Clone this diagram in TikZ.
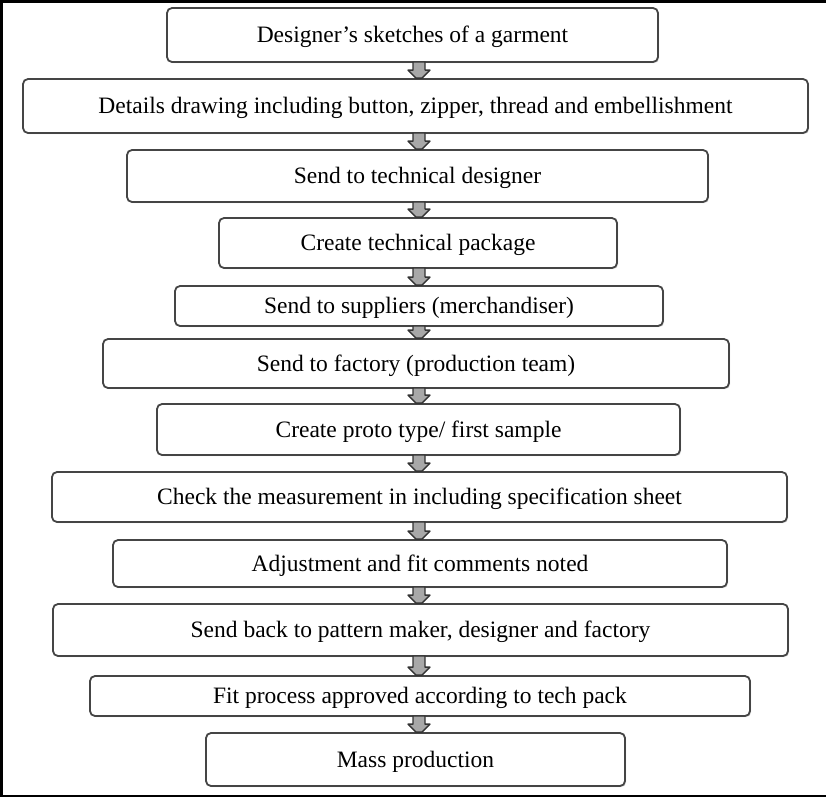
\documentclass[tikz,border=0pt]{standalone}
\usepackage{fontspec}
\setmainfont{Liberation Serif}
\usepackage{tikz}
\usetikzlibrary{calc,shadows}
\definecolor{edgex}{HTML}{454545}
\definecolor{arrowfill}{HTML}{A8A8A8}
\tikzset{
  stage/.style={draw=edgex,line width=1.8pt,rounded corners=5pt,fill=white,
    inner sep=0pt,text depth=1pt,font=\fontsize{23.5}{26}\selectfont,
    drop shadow={shadow xshift=1.2pt,shadow yshift=-1.2pt,fill=black!25}},
  flow/.style={draw=black!80,line width=1.3pt,fill=arrowfill,line join=round}
}
% block arrow from the bottom of one box to the top of the next
\newcommand{\flowarrow}[2]{%
  \path[flow] let \p1=(#1.south -| axis), \p2=(#2.north -| axis) in
    (\x1-6pt,\y1+1pt) -- (\x1+6pt,\y1+1pt) -- (\x1+6pt,\y2+8pt)
    -- (\x1+11pt,\y2+8pt) -- (\x1+3pt,\y2) -- (\x1-3pt,\y2)
    -- (\x1-11pt,\y2+8pt) -- (\x1-6pt,\y2+8pt) -- cycle;}

\begin{document}
\begin{tikzpicture}[x=1pt,y=-1pt]
\useasboundingbox (0,0) rectangle (826,798);
\draw[line width=3pt] (826,1.5) -- (1.5,1.5) -- (1.5,796);
\draw[line width=2pt] (0,796) -- (826,796);
\coordinate (axis) at (419,0);

\node[stage,minimum width=491,minimum height=54] (sketch) at (412.5,35) {Designer’s sketches of a garment};
\node[stage,minimum width=785,minimum height=54] (details) at (415.5,106) {Details drawing including button, zipper, thread and embellishment};
\node[stage,minimum width=581,minimum height=52] (sendtd) at (417.5,176) {Send to technical\ designer};
\node[stage,minimum width=398,minimum height=50] (techpack) at (418,243) {Create technical\ package};
\node[stage,minimum width=488,minimum height=40] (suppliers) at (419,306) {Send to suppliers (merchandiser)};
\node[stage,minimum width=626,minimum height=49] (factory) at (416,363.5) {Send to factory\ (production team)};
\node[stage,minimum width=523,minimum height=51] (proto) at (418.5,429.5) {Create proto type/ first sample};
\node[stage,minimum width=735,minimum height=50] (measure) at (419.5,497) {Check the measurement\ in including specification\ sheet};
\node[stage,minimum width=614,minimum height=47] (adjust) at (420,563.5) {Adjustment and fit comments noted};
\node[stage,minimum width=735,minimum height=52] (sendback) at (420.5,630) {Send back to pattern maker, designer and factory};
\node[stage,minimum width=660,minimum height=40] (approve) at (420,696) {Fit process approved according to tech pack};
\node[stage,minimum width=419,minimum height=53] (massprod) at (415.5,759.5) {Mass production};

\flowarrow{sketch}{details}
\flowarrow{details}{sendtd}
\flowarrow{sendtd}{techpack}
\flowarrow{techpack}{suppliers}
\flowarrow{suppliers}{factory}
\flowarrow{factory}{proto}
\flowarrow{proto}{measure}
\flowarrow{measure}{adjust}
\flowarrow{adjust}{sendback}
\flowarrow{sendback}{approve}
\flowarrow{approve}{massprod}
\end{tikzpicture}
\end{document}
